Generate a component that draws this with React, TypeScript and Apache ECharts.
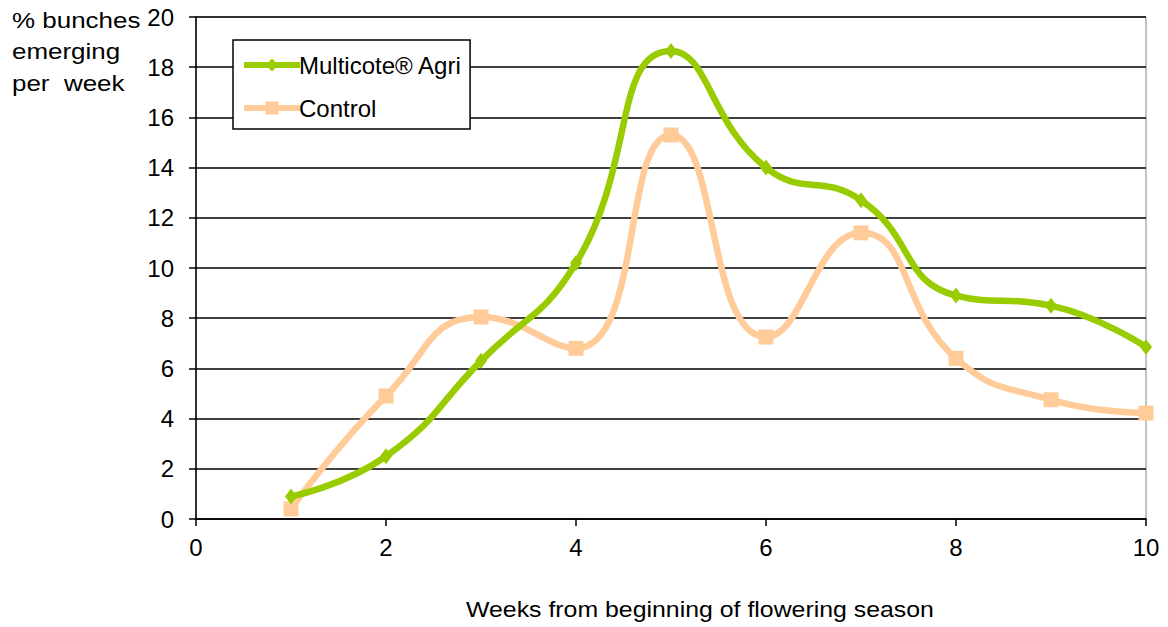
import React, { useEffect, useRef } from "react";
import * as echarts from "echarts";

// Weekly share of bunches emerging (%), weeks 1–10
const weeks = [1, 2, 3, 4, 5, 6, 7, 8, 9, 10];
const multicote = [0.9, 2.5, 6.3, 10.2, 18.65, 14.0, 12.7, 8.9, 8.5, 6.85];
const control = [0.4, 4.9, 8.05, 6.8, 15.3, 7.25, 11.4, 6.4, 4.75, 4.22];

const seriesNames = ["Multicote® Agri", "Control"];
const xAxisTitle = "Weeks from beginning of flowering season";
const yAxisTitleLines = ["% bunches", "emerging", "per  week"];

const FONT = "'Liberation Sans', Arial, sans-serif";
const GREEN = "#99CC00";
const PEACH = "#FFCC99";
const FS = 24;

export default function App() {
  const ref = useRef<HTMLDivElement>(null);

  useEffect(() => {
    if (!ref.current) return;
    const chart = echarts.init(ref.current, undefined, { renderer: "svg" });
    chart.setOption({
      animation: false,
      backgroundColor: "#ffffff",
      textStyle: { fontFamily: FONT },
      grid: {
        left: 196,
        right: 22,
        top: 17,
        bottom: 108,
        show: true,
        borderColor: "#888888",
        borderWidth: 1,
      },
      legend: {
        left: 233,
        top: 40,
        orient: "vertical",
        data: [
          { name: seriesNames[0], lineStyle: { width: 6, color: GREEN } },
          { name: seriesNames[1], lineStyle: { width: 6, color: PEACH } },
        ],
        itemWidth: 56,
        itemHeight: 16,
        itemGap: 19,
        padding: [13, 8, 9, 8],
        borderColor: "#000000",
        borderWidth: 1.5,
        borderRadius: 0,
        backgroundColor: "#ffffff",
        textStyle: { fontFamily: FONT, fontSize: FS, color: "#000000", padding: [0, 0, 0, -6] },
      },
      graphic: [
        ...yAxisTitleLines.map((line, i) => ({
          type: "text",
          x: 12,
          y: 9 + i * 31.5,
          scaleX: 1.18,
          style: {
            text: line,
            font: `22px ${FONT}`,
            fill: "#000000",
            whiteSpace: "pre",
          },
        })),
        {
          type: "text",
          x: 466,
          y: 598,
          scaleX: 1.13,
          style: {
            text: xAxisTitle,
            font: `22px ${FONT}`,
            fill: "#000000",
          },
        },
      ],
      xAxis: {
        type: "value",
        min: 0,
        max: 10,
        interval: 2,
        axisLine: { show: true, lineStyle: { color: "#000000", width: 1.5 } },
        axisTick: { show: true, length: 7, inside: false, lineStyle: { color: "#000000", width: 1.5 } },
        axisLabel: { fontSize: FS, color: "#000000", margin: 16, fontFamily: FONT },
        splitLine: { show: false },
      },
      yAxis: {
        type: "value",
        min: 0,
        max: 20,
        interval: 2,
        axisLine: { show: true, lineStyle: { color: "#000000", width: 1.5 } },
        axisTick: { show: true, length: 7, inside: false, lineStyle: { color: "#000000", width: 1.5 } },
        axisLabel: { fontSize: FS, color: "#000000", margin: 22, fontFamily: FONT },
        splitLine: { show: true, lineStyle: { color: "#000000", width: 1.5 } },
      },
      series: [
        {
          name: seriesNames[0],
          type: "line",
          smooth: 0.5,
          data: weeks.map((w, i) => [w, multicote[i]]),
          symbol: "diamond",
          symbolSize: [12, 16],
          itemStyle: { color: GREEN },
          lineStyle: { color: GREEN, width: 6.5 },
          z: 3,
        },
        {
          name: seriesNames[1],
          type: "line",
          smooth: 0.5,
          data: weeks.map((w, i) => [w, control[i]]),
          symbol: "rect",
          symbolSize: 15,
          itemStyle: { color: PEACH },
          lineStyle: { color: PEACH, width: 6.5 },
          z: 2,
        },
      ],
    });
    return () => chart.dispose();
  }, []);

  return <div ref={ref} style={{ width: 1168, height: 627, position: "absolute", left: 0, top: 0 }} />;
}
